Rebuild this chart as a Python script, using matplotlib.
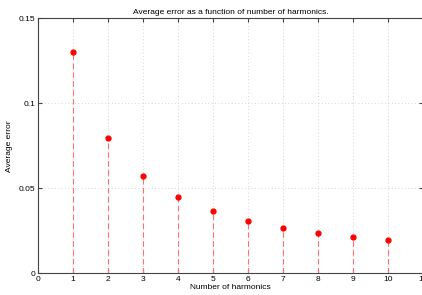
import numpy as np
import matplotlib
matplotlib.use("Agg")
import matplotlib.pyplot as plt

plt.rcParams['font.family'] = ['Liberation Sans', 'DejaVu Sans']

harmonics = [1, 2, 3, 4, 5, 6, 7, 8, 9, 10]
avg_error = [0.1302, 0.0798, 0.0572, 0.0449, 0.0367, 0.0309, 0.0267, 0.0238, 0.0213, 0.0194]
xticks = list(range(0, 12))
yticks = [0, 0.05, 0.1, 0.15]
ytick_labels = ['0', '0.05', '0.1', '0.15']

fig = plt.figure(figsize=(4.22, 2.95), dpi=100)
ax = fig.add_axes([38 / 422, 21.7 / 295, 385 / 422, 255 / 295])

markers, stems, base = ax.stem(harmonics, avg_error, basefmt=' ')
plt.setp(stems, color='#ff7070', linestyle=(0, (5, 3)), linewidth=0.8)
plt.setp(markers, color='red', markersize=3.5)

ax.set_xlim(0, 11)
ax.set_ylim(0, 0.15)
ax.set_xticks(xticks)
ax.set_yticks(yticks)
ax.set_yticklabels(ytick_labels)
ax.grid(True, linestyle=(0, (1, 3)), color='#c8c8c8', linewidth=0.6)
ax.set_axisbelow(True)
ax.tick_params(which='both', direction='in', length=3, labelsize=6, top=True, right=True,
               color='#444444', pad=2)
for s in ax.spines.values():
    s.set_color('#444444')
    s.set_linewidth(0.8)

ax.set_title('Average error as a function of number of harmonics.', fontsize=6, pad=3)
ax.set_xlabel('Number of harmonics', fontsize=6, labelpad=1)
ax.set_ylabel('Average error', fontsize=6, labelpad=4)

fig.savefig('out.png', dpi=100)
